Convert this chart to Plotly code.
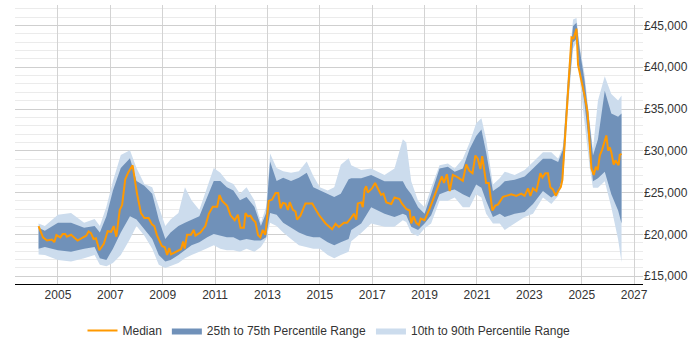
import plotly.graph_objects as go

# Median salary series (year, value)
median_years = [2004.26, 2004.43, 2004.58, 2004.77, 2004.86, 2004.94, 2005.09, 2005.18, 2005.28, 2005.34,
                2005.50, 2005.75, 2005.96, 2006.08, 2006.17, 2006.26, 2006.36, 2006.45, 2006.58, 2006.75,
                2006.90, 2007.03, 2007.13, 2007.23, 2007.36, 2007.45, 2007.57, 2007.68, 2007.85, 2008.02,
                2008.17, 2008.30, 2008.46, 2008.59, 2008.68, 2008.78, 2008.97, 2009.08, 2009.17, 2009.25,
                2009.32, 2009.55, 2009.70, 2009.78, 2009.84, 2009.93, 2010.08, 2010.18, 2010.25, 2010.44,
                2010.63, 2010.76, 2010.91, 2011.08, 2011.17, 2011.27, 2011.46, 2011.59, 2011.75, 2011.87,
                2011.97, 2012.10, 2012.16, 2012.25, 2012.35, 2012.44, 2012.54, 2012.64, 2012.73, 2012.82,
                2012.92, 2013.05, 2013.18, 2013.31, 2013.41, 2013.50, 2013.59, 2013.69, 2013.78, 2013.85,
                2013.97, 2014.07, 2014.13, 2014.26, 2014.45, 2014.71, 2014.96, 2015.22, 2015.47, 2015.60,
                2015.73, 2015.92, 2016.04, 2016.20, 2016.30, 2016.39, 2016.45, 2016.58, 2016.64, 2016.71,
                2016.77, 2016.83, 2016.99, 2017.11, 2017.22, 2017.34, 2017.43, 2017.54, 2017.73, 2017.85,
                2018.04, 2018.13, 2018.30, 2018.43, 2018.49, 2018.58, 2018.68, 2018.78, 2018.85, 2019.00,
                2019.19, 2019.38, 2019.57, 2019.66, 2019.74, 2019.85, 2019.96, 2020.08, 2020.27, 2020.46,
                2020.59, 2020.71, 2020.83, 2020.94, 2021.03, 2021.13, 2021.20, 2021.35, 2021.45, 2021.59,
                2021.70, 2021.80, 2021.99, 2022.12, 2022.31, 2022.50, 2022.69, 2022.82, 2022.95, 2023.04,
                2023.14, 2023.27, 2023.42, 2023.50, 2023.61, 2023.71, 2023.80, 2023.90, 2024.01, 2024.10,
                2024.20, 2024.26, 2024.35, 2024.48, 2024.61, 2024.69, 2024.80, 2024.86, 2024.99, 2025.11,
                2025.22, 2025.31, 2025.37, 2025.46, 2025.54, 2025.61, 2025.69, 2025.78, 2025.85, 2025.94,
                2026.01, 2026.07, 2026.13, 2026.22, 2026.29, 2026.35, 2026.41, 2026.45, 2026.52]
median_values = [21000, 19650, 19270, 19380, 19070, 19920, 19650, 20040, 20040, 19730,
                 19960, 19270, 19650, 19850, 20350, 20150, 19460, 19540, 18110, 18880,
                 20390, 20310, 21000, 19730, 22930, 23510, 26600, 27370, 28260, 24860,
                 22550, 21970, 21970, 21200, 21000, 19920, 18610, 18460, 17530, 18380,
                 17610, 17990, 18230, 19150, 18300, 19960, 19960, 20540, 19850, 20230,
                 21000, 22470, 23320, 23320, 24710, 24010, 23430, 22280, 21700, 22350,
                 20810, 20810, 22550, 22160, 22240, 21770, 21470, 19920, 19650, 20540,
                 19960, 24010, 24170, 24940, 24940, 23130, 23780, 23700, 22930, 23860,
                 22930, 22740, 21770, 22240, 23700, 23700, 22350, 21310, 20620, 21270,
                 20890, 21390, 21390, 22010, 22480, 21780, 23710, 23830, 23250, 25380,
                 25770, 25000, 25500, 26150, 25380, 24720, 24880, 23830, 23640, 24410,
                 24220, 23710, 23060, 22860, 21320, 22170, 21390, 21120, 21900, 21700,
                 23060, 24610, 26150, 26930, 26150, 27200, 25190, 27120, 26810, 26420,
                 28360, 27590, 27310, 29440, 29060, 27820, 29370, 26150, 26150, 22860,
                 23440, 23560, 24490, 24610, 24800, 24610, 24880, 24610, 25500, 24610,
                 25500, 25190, 27310, 26810, 27310, 27310, 25650, 25380, 24610, 25190,
                 25650, 26540, 30600, 37180, 43570, 43450, 44610, 40280, 38540, 36600,
                 34670, 30600, 27900, 27120, 28090, 27700, 29440, 30140, 30800, 31840,
                 30020, 30410, 29830, 28360, 28860, 28470, 28280, 29520, 29640]

# Percentile bands (year, p10, p25, p75, p90)
band_years = [2004.26, 2004.5, 2005.0, 2005.5, 2006.0, 2006.4, 2006.6, 2006.85, 2007.1, 2007.4,
              2007.75, 2008.0, 2008.3, 2008.6, 2008.85, 2009.1, 2009.3, 2009.6, 2009.85, 2010.1,
              2010.4, 2010.7, 2010.95, 2011.2, 2011.45, 2011.7, 2011.95, 2012.2, 2012.5, 2012.75,
              2012.95, 2013.1, 2013.35, 2013.6, 2013.9, 2014.2, 2014.5, 2014.75, 2015.0, 2015.3,
              2015.55, 2015.8, 2016.1, 2016.2, 2016.58, 2016.96, 2017.47, 2017.85, 2018.17, 2018.3,
              2018.49, 2018.75, 2019.0, 2019.25, 2019.57, 2019.89, 2020.15, 2020.46, 2020.72, 2020.97,
              2021.17, 2021.35, 2021.61, 2021.87, 2022.06, 2022.44, 2022.82, 2023.14, 2023.52, 2023.84,
              2024.1, 2024.29, 2024.48, 2024.67, 2024.8, 2024.92, 2025.11, 2025.31, 2025.43, 2025.62,
              2025.88, 2026.13, 2026.39, 2026.52]
p10_values = [17610, 17530, 16950, 16760, 17150, 17530, 16370, 16180, 16570, 17530,
              19460, 21000, 19850, 18300, 16370, 15990, 16180, 16570, 17150, 17530,
              17920, 18300, 18690, 18300, 18110, 18110, 17920, 18300, 17920, 18500,
              19460, 21390, 21000, 20230, 19460, 18690, 18500, 18300, 18300, 17530,
              17150, 17530, 17920, 19190, 20160, 21320, 20930, 20930, 21700, 21500,
              20160, 19770, 20740, 21320, 24030, 24030, 24410, 23250, 23250, 24800,
              24410, 22480, 21320, 21320, 20540, 21320, 22090, 22480, 24410, 23640,
              24610, 26350, 35250, 42210, 42990, 38730, 33310, 27890, 25570, 25570,
              26350, 23250, 19380, 16670]
p25_values = [18300, 18500, 18110, 17920, 18300, 18500, 17150, 16950, 18300, 20230,
              22160, 21770, 20620, 19460, 17530, 16760, 16950, 17530, 18110, 18690,
              19070, 19650, 20040, 19850, 19650, 19650, 19270, 19460, 19270, 19270,
              19650, 22550, 22350, 21390, 20810, 20230, 19850, 19650, 19650, 19070,
              18690, 19070, 19460, 20540, 21320, 23250, 22480, 22090, 22480, 22300,
              20930, 20540, 21320, 22280, 24800, 25190, 25380, 24800, 24410, 25960,
              25570, 24030, 22090, 22480, 22090, 22480, 22670, 23640, 25190, 24410,
              25000, 27120, 36020, 42990, 43370, 39510, 35630, 29830, 26350, 26730,
              27510, 24800, 22870, 21300]
p75_values = [20810, 20430, 21390, 21390, 20810, 21000, 20230, 22160, 25250, 27950,
              29110, 26400, 25830, 24860, 21770, 19460, 20230, 21000, 21390, 21770,
              22160, 24480, 26400, 26400, 25640, 25250, 24090, 24480, 23320, 21000,
              22550, 28720, 26400, 26790, 26400, 26790, 27370, 25640, 25250, 24860,
              24480, 24860, 26600, 26730, 26730, 27120, 26350, 26350, 26350, 25570,
              24800, 23250, 22480, 24800, 27890, 28090, 27510, 27890, 30210, 31760,
              32540, 29830, 25190, 25770, 26350, 26540, 26930, 27890, 29060, 29060,
              28670, 30210, 38730, 44920, 45310, 42210, 38340, 32930, 29440, 31380,
              37180, 34470, 34080, 34470]
p90_values = [21310, 21000, 22350, 22550, 21390, 21850, 21000, 23320, 26400, 29490,
              30070, 27950, 26020, 25640, 23320, 21000, 21770, 22550, 25640, 24090,
              22930, 25640, 27950, 27370, 26400, 26020, 24860, 25640, 24090, 21390,
              23320, 29680, 27950, 27560, 27370, 27560, 28720, 26990, 25640, 25250,
              25640, 28330, 29110, 28280, 27700, 27890, 27120, 27890, 31380, 30990,
              26350, 24030, 23250, 25570, 28280, 28470, 27890, 29060, 30990, 33310,
              33890, 31380, 25960, 26730, 27510, 27120, 27700, 28670, 29830, 29830,
              29060, 30600, 39510, 45700, 45890, 42600, 39120, 33310, 30210, 36020,
              38920, 36800, 36020, 36610]

x_ticks = [2005, 2007, 2009, 2011, 2013, 2015, 2017, 2019, 2021, 2023, 2025, 2027]
y_ticks = [15000, 20000, 25000, 30000, 35000, 40000, 45000]

fig = go.Figure()

fig.add_trace(go.Scatter(
    x=band_years + band_years[::-1],
    y=p90_values + p10_values[::-1],
    fill="toself", mode="lines", line=dict(width=0),
    fillcolor="rgb(204,220,237)",
    name="10th to 90th Percentile Range", legendrank=3, hoverinfo="skip"))

fig.add_trace(go.Scatter(
    x=band_years + band_years[::-1],
    y=p75_values + p25_values[::-1],
    fill="toself", mode="lines", line=dict(width=0),
    fillcolor="rgb(112,145,185)",
    name="25th to 75th Percentile Range", legendrank=2, hoverinfo="skip"))

fig.add_trace(go.Scatter(
    x=median_years, y=median_values, mode="lines",
    line=dict(color="rgb(255,153,0)", width=2),
    name="Median", legendrank=1))

fig.update_layout(
    width=700, height=350,
    margin=dict(l=15, r=57, t=5, b=58),
    paper_bgcolor="white", plot_bgcolor="white",
    font=dict(family="Liberation Sans, Arial, sans-serif", size=12, color="#333333"),
    showlegend=True,
    legend=dict(orientation="h", x=0.5, xanchor="center", y=-0.115, yanchor="top",
                font=dict(size=12, color="#333333"), traceorder="normal",
                itemwidth=30),
    xaxis=dict(range=[2003.36, 2027.34], tickvals=x_ticks, ticktext=[str(t) for t in x_ticks],
               showgrid=True, gridcolor="#d3d3d3", gridwidth=1,
               showline=True, linecolor="black", linewidth=1, ticks="",
               zeroline=False, fixedrange=True),
    yaxis=dict(range=[14070, 47440], side="right", tickvals=y_ticks,
               ticktext=["£{:,}".format(v) for v in y_ticks],
               showgrid=True, gridcolor="#cfcfcf", gridwidth=1,
               minor=dict(dtick=1000, tick0=0, showgrid=True, gridcolor="#ebebeb", gridwidth=1),
               ticks="", showline=False, zeroline=False, fixedrange=True),
)

fig.write_html("out.html")
